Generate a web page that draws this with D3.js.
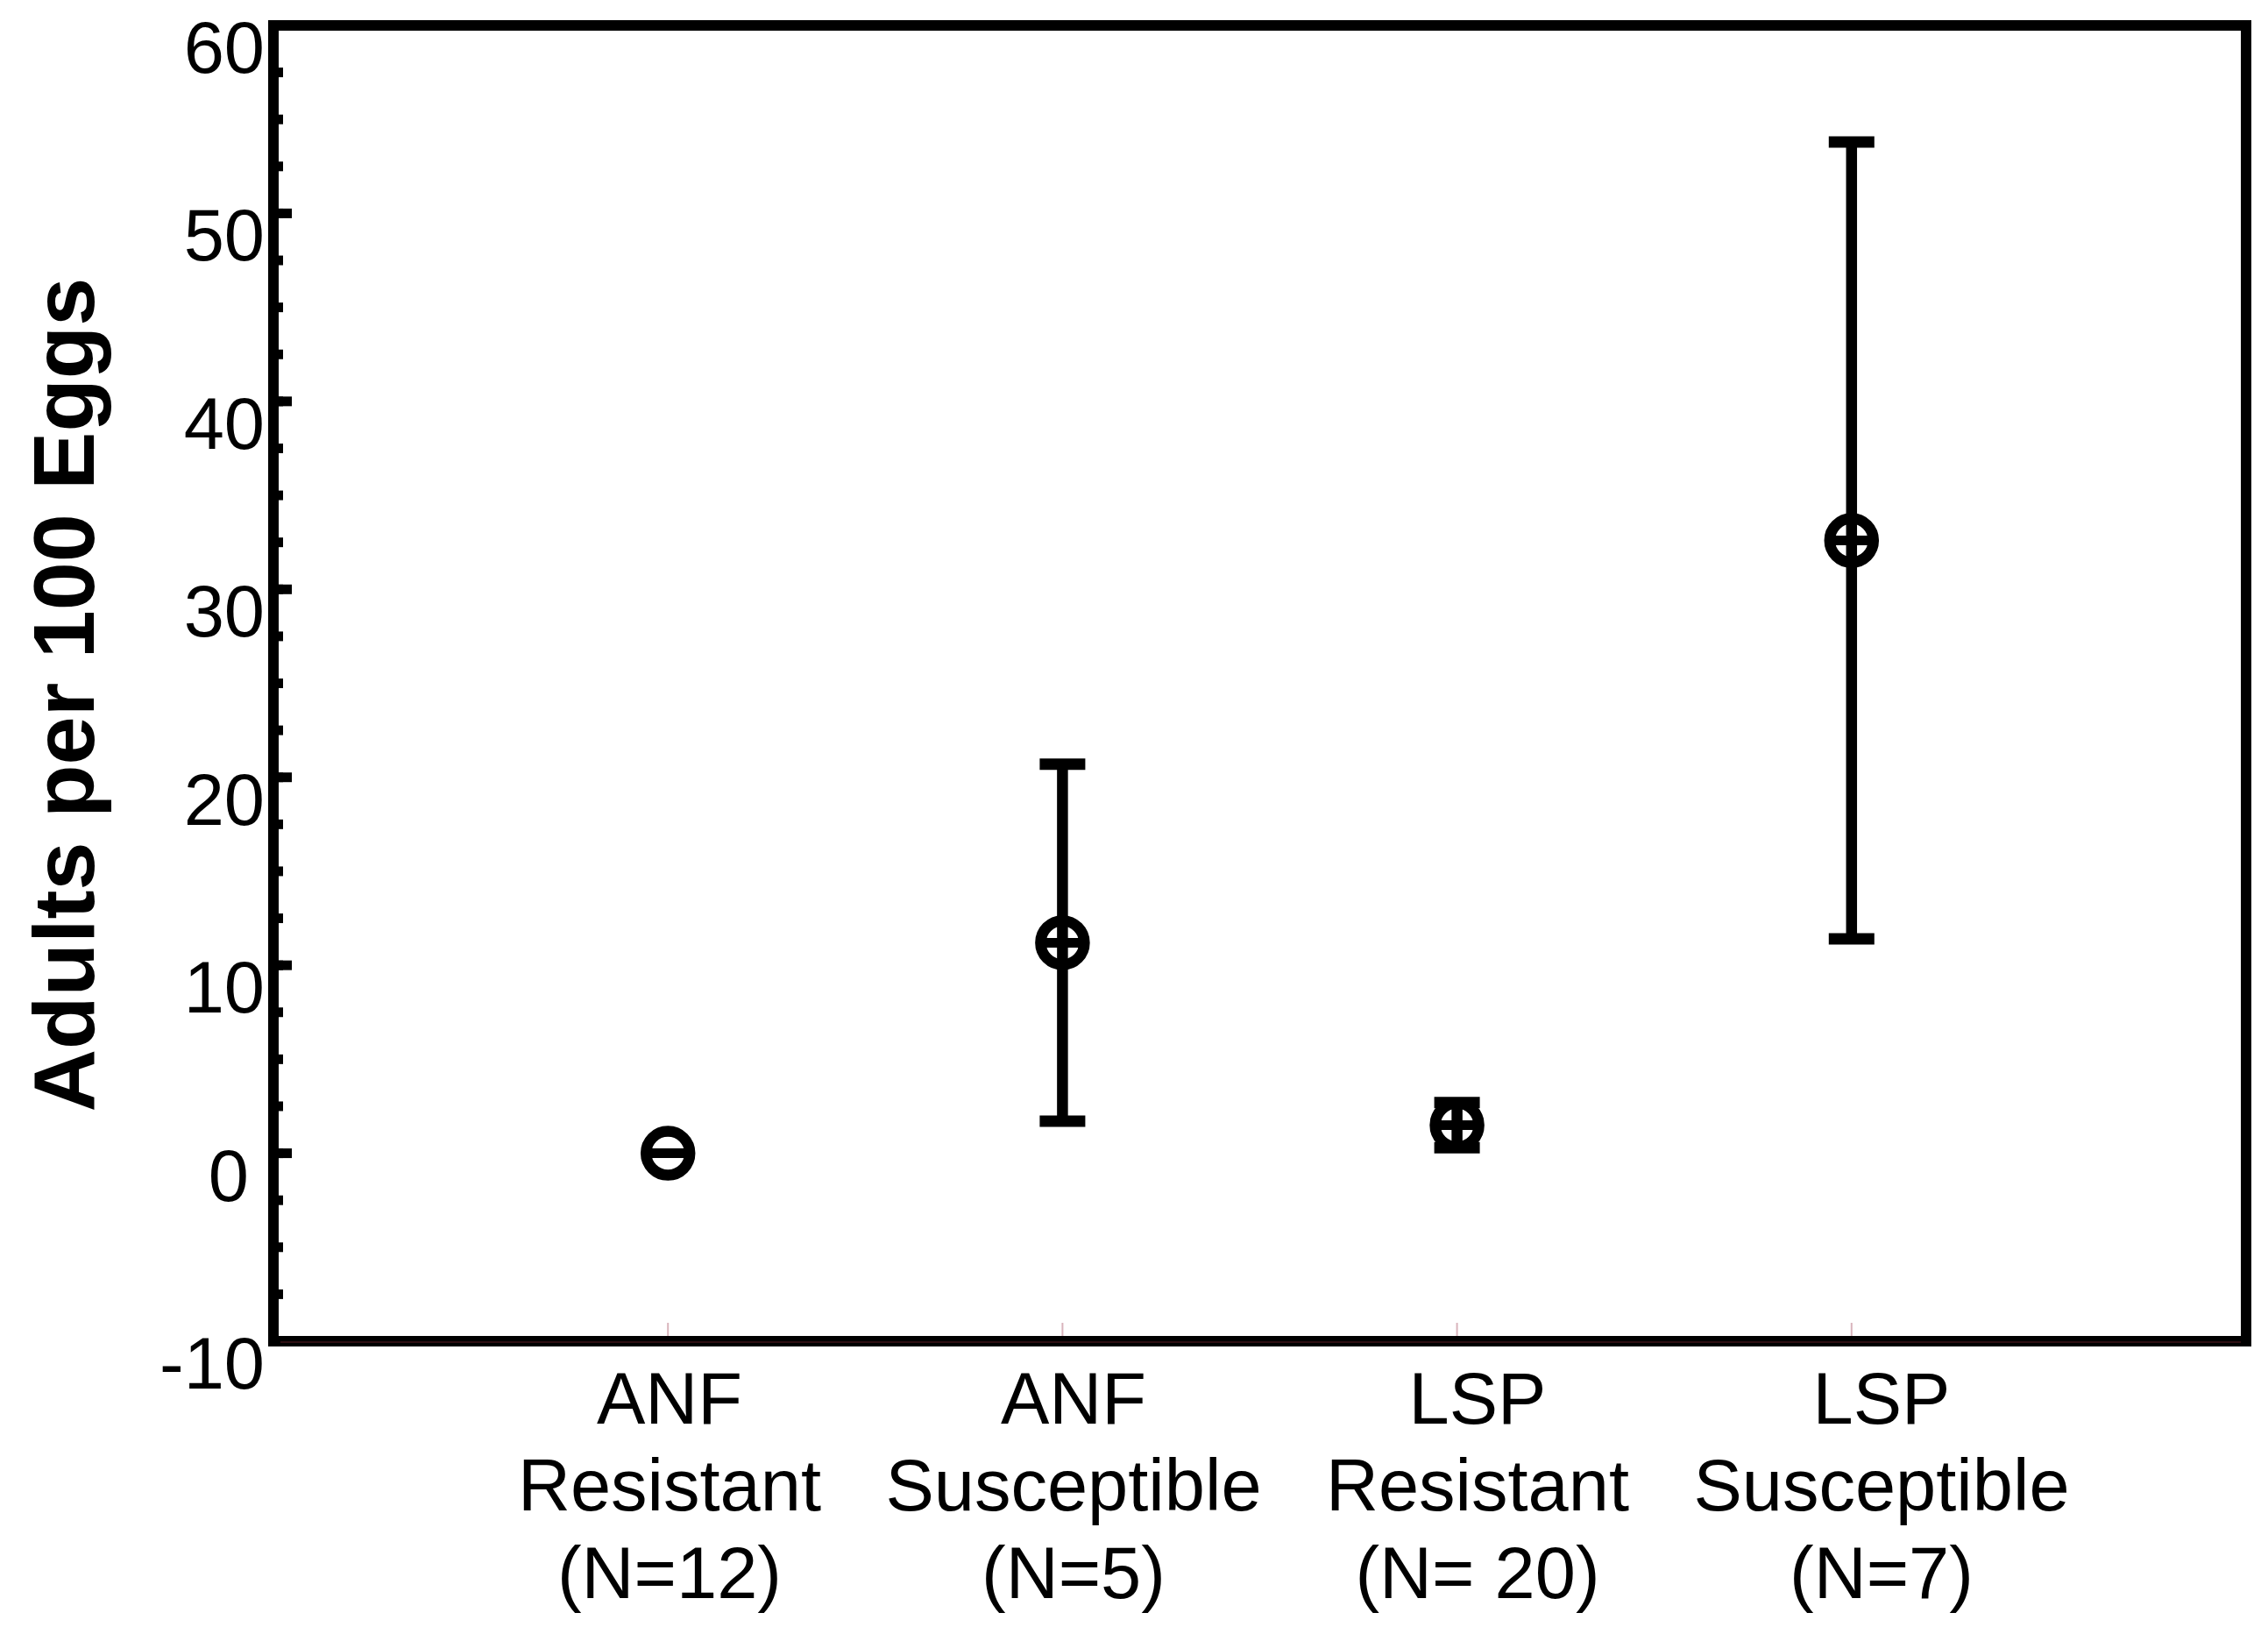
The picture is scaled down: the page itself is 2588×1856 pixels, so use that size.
<!DOCTYPE html>
<html>
<head>
<meta charset="utf-8">
<script src="https://cdn.jsdelivr.net/npm/d3@7"></script>
<style>
  html, body { margin: 0; padding: 0; background: #fff; }
  svg { display: block; }
  text { font-family: "Liberation Sans", Arial, sans-serif; fill: #000; }
</style>
</head>
<body>
<svg id="chart" width="2588" height="1856"></svg>
<script>
// ---- data ----
const groups = ["ANF", "ANF", "LSP", "LSP"];
const statuses = ["Resistant", "Susceptible", "Resistant", "Susceptible"];
const sampleSizes = ["(N=12)", "(N=5)", "(N= 20)", "(N=7)"];
const positions = [1, 2, 3, 4];
const means = [0, 11.2, 1.5, 32.6];
const errors = [0, 9.5, 1.2, 21.2];
const yTicks = [-10, 0, 10, 20, 30, 40, 50, 60];
const yMinorTicks = d3.range(-10, 60.01, 2.5);
const yTitle = "Adults per 100 Eggs";

// ---- layout ----
const svg = d3.select("#chart");
const plotL = 312, plotR = 2563, plotT = 29, plotB = 1530;
const x = d3.scaleLinear().domain([0, 5]).range([plotL, plotR]);
const y = d3.scaleLinear().domain([-10, 60]).range([plotB, plotT]);
// label positions (slightly spread relative to the marks in the original)
const xLabel = d3.scaleLinear().domain([1, 4]).range([764, 2147]);

// x ticks (faint pink)
svg.append("g").selectAll("line").data(positions).join("line")
  .attr("x1", d => x(d)).attr("x2", d => x(d))
  .attr("y1", plotB - 21).attr("y2", plotB)
  .attr("stroke", "#d9b4bc").attr("stroke-width", 2);

// minor y ticks
svg.append("g").selectAll("line").data(yMinorTicks).join("line")
  .attr("x1", plotL).attr("x2", plotL + 11)
  .attr("y1", d => y(d)).attr("y2", d => y(d))
  .attr("stroke", "#000").attr("stroke-width", 11);

// major y ticks
svg.append("g").selectAll("line").data(yTicks).join("line")
  .attr("x1", plotL).attr("x2", plotL + 21)
  .attr("y1", d => y(d)).attr("y2", d => y(d))
  .attr("stroke", "#000").attr("stroke-width", 11);

// frame
svg.append("rect")
  .attr("x", plotL).attr("y", plotT)
  .attr("width", plotR - plotL).attr("height", plotB - plotT)
  .attr("fill", "none").attr("stroke", "#000").attr("stroke-width", 12);
svg.append("line")
  .attr("x1", plotL + 8).attr("x2", plotR - 6)
  .attr("y1", plotB + 1).attr("y2", plotB + 1)
  .attr("stroke", "#5a1c22").attr("stroke-width", 1);

// y tick labels
svg.append("g").selectAll("text").data(yTicks).join("text")
  .attr("x", plotL - 10)
  .attr("dx", d => d === 0 ? -18 : 0)
  .attr("y", d => y(d) + 54)
  .attr("text-anchor", "end")
  .attr("font-size", 83)
  .text(d => d);

// y title
svg.append("text")
  .attr("transform", `translate(107, ${(314 + 1271) / 2}) rotate(-90)`)
  .attr("text-anchor", "middle")
  .attr("font-size", 99)
  .attr("font-weight", "bold")
  .text(yTitle);

// x labels
const lbl = svg.append("g").selectAll("text").data(positions).join("text")
  .attr("text-anchor", "middle")
  .attr("font-size", 83);
lbl.append("tspan").attr("x", d => xLabel(d)).attr("y", 1624).text((d, i) => groups[i]);
lbl.append("tspan").attr("x", d => xLabel(d)).attr("y", 1723).text((d, i) => statuses[i]);
lbl.append("tspan").attr("x", d => xLabel(d)).attr("y", 1823).text((d, i) => sampleSizes[i]);

// error bars
const capHalf = 26;
const eb = svg.append("g").selectAll("g").data(positions).join("g");
eb.append("line")
  .attr("x1", d => x(d)).attr("x2", d => x(d))
  .attr("y1", (d, i) => y(means[i] + errors[i]))
  .attr("y2", (d, i) => y(means[i] - errors[i]))
  .attr("stroke", "#000").attr("stroke-width", 12.5)
  .attr("display", (d, i) => errors[i] > 0 ? null : "none");
[1, -1].forEach(s => {
  eb.append("line")
    .attr("x1", d => x(d) - capHalf).attr("x2", d => x(d) + capHalf)
    .attr("y1", (d, i) => y(means[i] + s * errors[i]))
    .attr("y2", (d, i) => y(means[i] + s * errors[i]))
    .attr("stroke", "#000").attr("stroke-width", 13)
    .attr("display", (d, i) => errors[i] > 0 ? null : "none");
});

// markers: circle with horizontal bar
const mk = svg.append("g").selectAll("g").data(positions).join("g")
  .attr("transform", (d, i) => `translate(${x(d)}, ${y(means[i])})`);
mk.append("circle").attr("r", 25).attr("fill", "none")
  .attr("stroke", "#000").attr("stroke-width", 12.5);
mk.append("line").attr("x1", -20).attr("x2", 20).attr("y1", 0).attr("y2", 0)
  .attr("stroke", "#000").attr("stroke-width", 11);
</script>
</body>
</html>
